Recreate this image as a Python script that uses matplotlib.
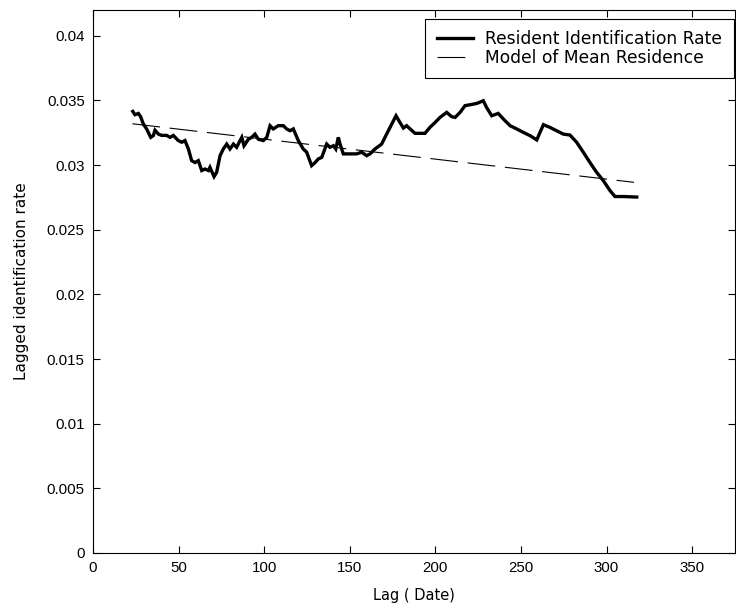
import matplotlib
matplotlib.use("Agg")
import matplotlib.pyplot as plt
from matplotlib.ticker import FormatStrFormatter, MultipleLocator

plt.rcParams['font.family'] = ['DejaVu Sans']
plt.rcParams['lines.scale_dashes'] = False

# Lagged identification rate of resident animals
lag_days = [23.2, 24.5, 26.5, 27.8, 29.4, 31.3, 33.7, 35.2, 36.2, 38.2, 40.1, 43.0,
            45.0, 46.9, 49.8, 51.8, 53.7, 55.7, 57.6, 59.6, 61.5, 63.5, 65.4, 67.4,
            68.3, 70.7, 72.2, 74.2, 76.1, 78.1, 80.0, 82.0, 83.9, 85.9, 86.9, 88.2,
            90.7, 92.7, 94.6, 96.6, 99.5, 101.5, 103.4, 105.3, 108.2, 111.2, 113.1,
            115.1, 117.0, 119.9, 122.8, 124.8, 127.7, 129.7, 131.6, 133.6, 136.5,
            138.4, 140.4, 141.8, 143.3, 144.3, 146.2, 149.1, 154.0, 156.9, 159.9,
            161.8, 164.7, 168.6, 171.5, 174.5, 177.0, 179.3, 181.3, 183.2, 185.2,
            188.1, 193.9, 196.8, 199.8, 202.7, 206.6, 209.5, 211.5, 214.4, 217.3,
            220.2, 224.1, 228.0, 229.9, 232.9, 236.7, 239.7, 243.6, 247.5, 251.4,
            255.3, 259.2, 261.1, 263.1, 266.9, 270.8, 274.7, 278.6, 282.5, 286.4,
            290.3, 294.2, 298.1, 302.0, 304.9, 309.8, 317.6]
resident_rate = [0.03416, 0.03390, 0.03400, 0.03375, 0.03318, 0.03280, 0.03215, 0.03228,
                 0.03270, 0.03240, 0.03230, 0.03230, 0.03215, 0.03230, 0.03190, 0.03177,
                 0.03190, 0.03125, 0.03035, 0.03020, 0.03035, 0.02958, 0.02970, 0.02958,
                 0.02983, 0.02911, 0.02944, 0.03073, 0.03125, 0.03163, 0.03125, 0.03163,
                 0.03138, 0.03190, 0.03215, 0.03150, 0.03200, 0.03215, 0.03240, 0.03200,
                 0.03190, 0.03215, 0.03305, 0.03280, 0.03305, 0.03305, 0.03280, 0.03266,
                 0.03280, 0.03190, 0.03125, 0.03100, 0.02996, 0.03020, 0.03048, 0.03060,
                 0.03163, 0.03138, 0.03150, 0.03125, 0.03215, 0.03163, 0.03087, 0.03087,
                 0.03087, 0.03100, 0.03073, 0.03087, 0.03125, 0.03163, 0.03240, 0.03318,
                 0.03382, 0.03330, 0.03287, 0.03305, 0.03280, 0.03246, 0.03246, 0.03292,
                 0.03330, 0.03369, 0.03408, 0.03375, 0.03369, 0.03408, 0.03460, 0.03467,
                 0.03477, 0.03498, 0.03446, 0.03382, 0.03400, 0.03357, 0.03305, 0.03280,
                 0.03253, 0.03228, 0.03195, 0.03253, 0.03313, 0.03292, 0.03266, 0.03240,
                 0.03233, 0.03177, 0.03100, 0.03020, 0.02944, 0.02880, 0.02803, 0.02757,
                 0.02757, 0.02753]

# Fitted mean-residence model
model_days = [23.0, 129.7, 239.7, 316.0]
model_rate = [0.03320, 0.03155, 0.02985, 0.02867]

x_ticks = [0, 50, 100, 150, 200, 250, 300, 350]

tick_font = ['Liberation Sans', 'DejaVu Sans']

fig = plt.figure(figsize=(7.36, 6.13), dpi=100)
ax = fig.add_axes([0.1264, 0.0979, 0.8722, 0.8858])

ax.plot(lag_days, resident_rate, color='black', linewidth=2.4,
        solid_joinstyle='miter', label='Resident Identification Rate')
ax.plot(model_days, model_rate, color='black', linewidth=0.8,
        dashes=(20, 7), label='Model of Mean Residence')

ax.set_xlim(0, 375)
ax.set_ylim(0, 0.042)
ax.set_xticks(x_ticks)
ax.yaxis.set_major_locator(MultipleLocator(0.005))
ax.yaxis.set_major_formatter(FormatStrFormatter('%g'))

ax.tick_params(direction='in', length=5, width=0.8, top=True, right=True,
               pad=6, colors='black')
for lbl in ax.get_xticklabels() + ax.get_yticklabels():
    lbl.set_fontfamily(tick_font)
    lbl.set_fontsize(10.8)
for side in ax.spines.values():
    side.set_linewidth(0.8)
    side.set_color('black')

ax.set_xlabel('Lag ( Date)', fontsize=10.5, labelpad=9)
ax.set_ylabel('Lagged identification rate', fontsize=11, labelpad=13)

leg = ax.legend(loc='upper right', bbox_to_anchor=(0.998, 0.984), fontsize=12.3,
                frameon=True, fancybox=False, edgecolor='black', framealpha=1,
                handlelength=2.15, handletextpad=0.7, borderpad=0.67,
                labelspacing=0.05, borderaxespad=0)
leg.get_frame().set_linewidth(0.8)

fig.savefig('out.png', dpi=100)
